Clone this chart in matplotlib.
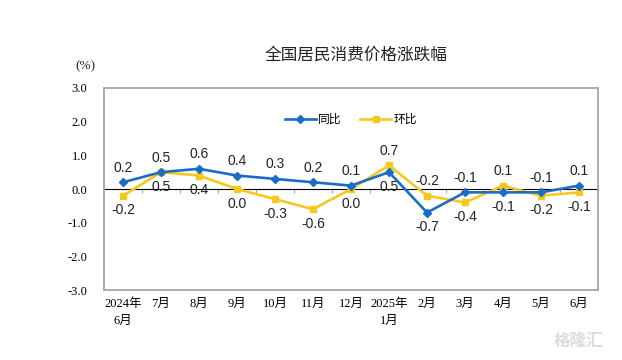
import matplotlib
matplotlib.use("Agg")
import matplotlib.pyplot as plt
import numpy as np

# data
months = ["2024年\n6月", "7月", "8月", "9月", "10月", "11月", "12月",
          "2025年\n1月", "2月", "3月", "4月", "5月", "6月"]
yoy = [0.2, 0.5, 0.6, 0.4, 0.3, 0.2, 0.1, 0.5, -0.7, -0.1, -0.1, -0.1, 0.1]
mom = [-0.2, 0.5, 0.4, 0.0, -0.3, -0.6, 0.0, 0.7, -0.2, -0.4, 0.1, -0.2, -0.1]
# label placement: 1 = above the point, -1 = below
yoy_pos = [1, 1, 1, 1, 1, 1, 1, -1, -1, 1, -1, 1, 1]
mom_pos = [-1, -1, -1, -1, -1, -1, -1, 1, 1, -1, 1, -1, -1]

BLUE = "#1c6cc6"
YELLOW = "#f6c81e"
GRID = "#a6a6a6"
CJK = ["Noto Sans CJK SC", "DejaVu Sans"]
SERIF = ["Liberation Serif", "Noto Sans CJK SC"]

fig = plt.figure(figsize=(6.22, 3.6), dpi=100)
ax = fig.add_axes([0.1672, 0.1944, 0.7942, 0.5612])

x = np.arange(len(months))
ax.plot(x, yoy, color=BLUE, lw=1.9, marker="D", ms=4.2, label="同比", zorder=4)
ax.plot(x, mom, color=YELLOW, lw=1.9, marker="s", ms=4.5, label="环比", zorder=3)

for xi, v, p in zip(x, yoy, yoy_pos):
    ax.annotate(f"{v:.1f}", (xi, v), xytext=(0, 10.5 * p), textcoords="offset points",
                ha="center", va="center", fontsize=10, family="Liberation Sans", color="#222222")
for xi, v, p in zip(x, mom, mom_pos):
    ax.annotate(f"{v:.1f}", (xi, v), xytext=(0, 10.5 * p), textcoords="offset points",
                ha="center", va="center", fontsize=10, family="Liberation Sans", color="#222222")

ax.set_xlim(-0.5, len(months) - 0.5)
ax.set_ylim(-3, 3)
ax.set_yticks(np.arange(-3, 3.1, 1.0))
ax.set_yticklabels([f"{t:.1f}" for t in np.arange(-3, 3.1, 1.0)], family=SERIF, fontsize=9)
ax.set_xticks(x)
ax.set_xticklabels(months, family=SERIF, fontsize=9, linespacing=1.5)
ax.tick_params(axis="y", length=0, pad=12)
ax.tick_params(axis="x", length=0, pad=6)
for s in ax.spines.values():
    s.set_color(GRID)
    s.set_linewidth(1.3)

# zero line acting as category axis, ticks between categories pointing up
zero = ax.secondary_xaxis(0.5)
zero.set_xticks(np.arange(0.5, len(months) - 1, 1.0))
zero.tick_params(direction="in", length=3, color=GRID, labelbottom=False, labeltop=False)
zero.spines["bottom"].set_color(GRID)
zero.spines["bottom"].set_linewidth(1.3)

leg = ax.legend(loc="upper center", bbox_to_anchor=(0.5, 0.93), ncol=2, frameon=False,
                prop={"family": CJK, "size": 8.5}, handlelength=2.6, columnspacing=1.6,
                handletextpad=0.2)

fig.text(0.572, 0.847, "全国居民消费价格涨跌幅", ha="center", va="center",
         family=CJK, fontsize=12, color="#222222")
fig.text(0.137, 0.817, "(%)", ha="center", va="center", family=SERIF, fontsize=9.5, color="#222222")
fig.text(0.93, 0.055, "格隆汇", ha="center", va="center", family=CJK, fontsize=12,
         color="#dddddd", fontweight="bold")

fig.savefig("out.png", dpi=100)
